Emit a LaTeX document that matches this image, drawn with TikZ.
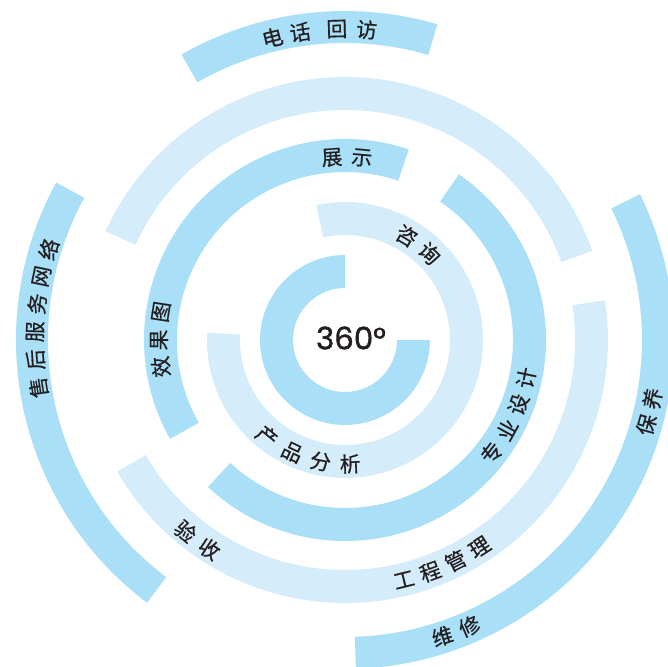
\documentclass[tikz,border=0pt]{standalone}
\usepackage{fontspec}
\newfontfamily\cjk[FakeBold=0.5]{Noto Sans CJK SC}
\newfontfamily\numfont[FakeBold=1.3]{Poppins}
\definecolor{ringdark}{HTML}{A9E0F8}
\definecolor{ringlight}{HTML}{D5EDFA}
\definecolor{txtcol}{HTML}{231F20}
% annular sector: r_in, r_out, start angle, end angle, colour
\newcommand\ringseg[5]{\fill[#5] (#3:#2bp) arc[start angle=#3,end angle=#4,radius=#2bp] -- (#4:#1bp) arc[start angle=#4,end angle=#3,radius=#1bp] -- cycle;}
% text along an arc: name prefix, radius, rotation offset (-90 or +90), list angle/char
\newcommand\arctext[4]{\foreach \ang/\ch [count=\k] in {#4} {\node[lbl,rotate={\ang#3}] (#1\k) at (\ang:#2bp) {\ch};}}
\begin{document}
\begin{tikzpicture}[
  lbl/.style={font=\cjk\fontsize{21}{21}\selectfont, text=txtcol, inner sep=0pt},
  bigtxt/.style={font=\numfont\fontsize{31}{31}\selectfont, text=txtcol, inner sep=0pt}]
\useasboundingbox (-345bp,-327bp) rectangle (323bp,340bp);
\clip (-345bp,-327bp) rectangle (323bp,340bp);
% ring 1
\ringseg{52}{85}{90}{360}{ringdark}
% ring 2
\ringseg{105}{138}{177}{462}{ringlight}
% ring 3
\ringseg{168}{201}{71.5}{209.5}{ringdark}
\ringseg{168}{201}{227}{415.5}{ringdark}
% ring 4
\ringseg{230}{263}{19.8}{155.6}{ringlight}
\ringseg{230}{263}{210}{368.7}{ringlight}
% ring 5
\ringseg{297}{329}{73.7}{119.8}{ringdark}
\ringseg{297}{329}{151.4}{233}{ringdark}
\ringseg{297}{329}{-88.1}{26.3}{ringdark}
% centre
\node[bigtxt] (deg) at (6bp,2bp) {360°};
% labels
\arctext{tel}{311}{-90}{103.5/电,98.3/话,91.5/回,86.0/访}
\arctext{svc}{310}{-90}{188.8/售,183.64/后,178.48/服,173.32/务,168.16/网,163.0/络}
\arctext{bao}{313}{+90}{-15.7/保,-10.8/养}
\arctext{wei}{312}{+90}{-71.8/维,-66.5/修}
\arctext{gc}{247}{+90}{-76.2/工,-69.8/程,-63.4/管,-57.0/理}
\arctext{ys}{249}{+90}{-129.8/验,-123.0/收}
\arctext{zy}{185}{+90}{-37.6/专,-29.0/业,-20.4/设,-11.8/计}
\arctext{xg}{186}{-90}{188.3/效,180.0/果,171.3/图}
\arctext{zs}{183}{-90}{94.1/展,84.7/示}
\arctext{zx}{121}{-90}{59.4/咨,45.7/询}
\arctext{cp}{124}{+90}{-129.0/产,-115.2/品,-101.4/分,-87.6/析}
\end{tikzpicture}
\end{document}
